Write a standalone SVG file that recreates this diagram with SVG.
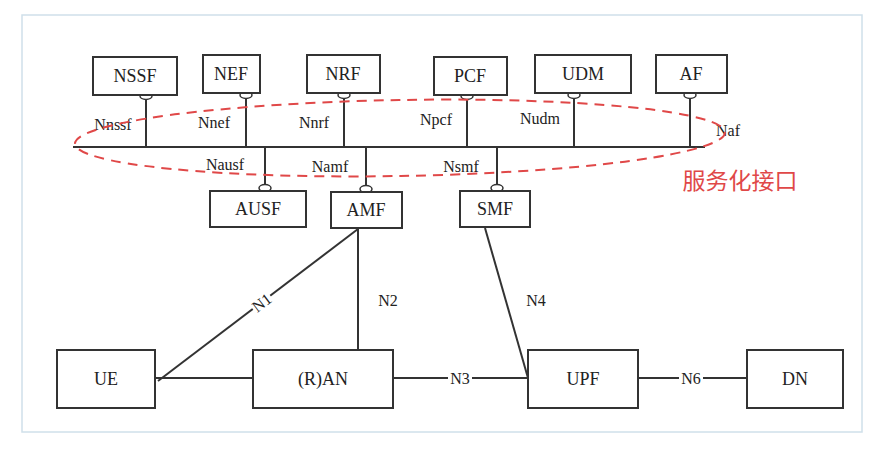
<svg xmlns="http://www.w3.org/2000/svg" width="878" height="458" viewBox="0 0 878 458">
<style>
.b{fill:#fff;stroke:#333;stroke-width:2}
.l{stroke:#333;stroke-width:2;fill:none}
.o{fill:#fff;stroke:#333;stroke-width:1.5}
text{font-family:'Liberation Serif','Times New Roman',serif;font-size:18px;fill:#222;text-anchor:middle}
.s{font-size:16px}
</style>
<rect width="878" height="458" fill="#fff"/>
<rect x="22" y="15" width="840" height="417" fill="none" stroke="#cfe0ea" stroke-width="1.5"/>
<g id="connectors" font-family="Liberation Serif, serif">
<line class="l" x1="73" y1="147" x2="705" y2="147"/>
<line class="l" x1="146" y1="95" x2="146" y2="147"/>
<line class="l" x1="246" y1="94" x2="246" y2="147"/>
<line class="l" x1="344" y1="94" x2="344" y2="147"/>
<line class="l" x1="467" y1="95" x2="467" y2="147"/>
<line class="l" x1="574" y1="94" x2="574" y2="147"/>
<line class="l" x1="690" y1="94" x2="690" y2="147"/>
<line class="l" x1="265" y1="147" x2="265" y2="189"/>
<line class="l" x1="366" y1="147" x2="366" y2="190"/>
<line class="l" x1="497" y1="147" x2="497" y2="189"/>
<line class="l" x1="158" y1="381" x2="358" y2="229" stroke-width="1.5"/>
<line class="l" x1="358" y1="229" x2="358" y2="350"/>
<line class="l" x1="485" y1="228" x2="528" y2="378" stroke-width="1.5"/>
<line class="l" x1="155" y1="378" x2="253" y2="378"/>
<line class="l" x1="393" y1="378" x2="528" y2="378"/>
<line class="l" x1="638" y1="378" x2="747" y2="378"/>
<ellipse cx="146" cy="96" rx="6" ry="3.5" class="o"/>
<ellipse cx="246" cy="95" rx="6" ry="3.5" class="o"/>
<ellipse cx="344" cy="95" rx="6" ry="3.5" class="o"/>
<ellipse cx="467" cy="96" rx="6" ry="3.5" class="o"/>
<ellipse cx="574" cy="95" rx="6" ry="3.5" class="o"/>
<ellipse cx="690" cy="95" rx="6" ry="3.5" class="o"/>
<ellipse cx="265" cy="188" rx="6" ry="3.5" class="o"/>
<ellipse cx="366" cy="189" rx="6" ry="3.5" class="o"/>
<ellipse cx="497" cy="188" rx="6" ry="3.5" class="o"/>
<text class="s" x="113" y="130">Nnssf</text>
<text class="s" x="214" y="128">Nnef</text>
<text class="s" x="314" y="128">Nnrf</text>
<text class="s" x="436" y="125">Npcf</text>
<text class="s" x="540" y="124">Nudm</text>
<text class="s" x="728" y="136">Naf</text>
<text class="s" x="225" y="170">Nausf</text>
<text class="s" x="330" y="172">Namf</text>
<text class="s" x="461" y="172">Nsmf</text>
<g transform="rotate(-37 262 303)"><rect x="251" y="295" width="22" height="16" fill="#fff"/><text class="s" x="262" y="308">N1</text></g>
<text class="s" x="388" y="306">N2</text>
<text class="s" x="536" y="306">N4</text>
<rect x="448" y="370" width="24" height="16" fill="#fff"/>
<text class="s" x="460" y="384">N3</text>
<rect x="679" y="370" width="24" height="16" fill="#fff"/>
<text class="s" x="691" y="384">N6</text>
</g>
<ellipse cx="400" cy="138" rx="325" ry="38" fill="none" stroke="#e04848" stroke-width="2" stroke-dasharray="10 7" transform="rotate(-1 400 138)"/>
<text x="740" y="189" style="font-family:'Noto Sans CJK SC',sans-serif;font-size:23px;fill:#e04848">服务化接口</text>
<g id="NSSF"><rect class="b" x="93" y="57" width="84" height="38"/><text x="135" y="82">NSSF</text></g>
<g id="NEF"><rect class="b" x="203" y="55" width="57" height="38"/><text x="231" y="80">NEF</text></g>
<g id="NRF"><rect class="b" x="307" y="55" width="73" height="38"/><text x="343" y="80">NRF</text></g>
<g id="PCF"><rect class="b" x="434" y="57" width="73" height="38"/><text x="470" y="82">PCF</text></g>
<g id="UDM"><rect class="b" x="535" y="55" width="96" height="38"/><text x="583" y="80">UDM</text></g>
<g id="AF"><rect class="b" x="656" y="55" width="71" height="38"/><text x="691" y="80">AF</text></g>
<g id="AUSF"><rect class="b" x="210" y="191" width="96" height="36"/><text x="258" y="215">AUSF</text></g>
<g id="AMF"><rect class="b" x="331" y="192" width="71" height="36"/><text x="366" y="216">AMF</text></g>
<g id="SMF"><rect class="b" x="460" y="191" width="70" height="36"/><text x="495" y="215">SMF</text></g>
<g id="UE"><rect class="b" x="57" y="350" width="98" height="58"/><text x="106" y="385">UE</text></g>
<g id="RAN"><rect class="b" x="253" y="350" width="140" height="58"/><text x="323" y="385">(R)AN</text></g>
<g id="UPF"><rect class="b" x="528" y="350" width="110" height="58"/><text x="583" y="385">UPF</text></g>
<g id="DN"><rect class="b" x="747" y="350" width="96" height="58"/><text x="795" y="385">DN</text></g>
</svg>
